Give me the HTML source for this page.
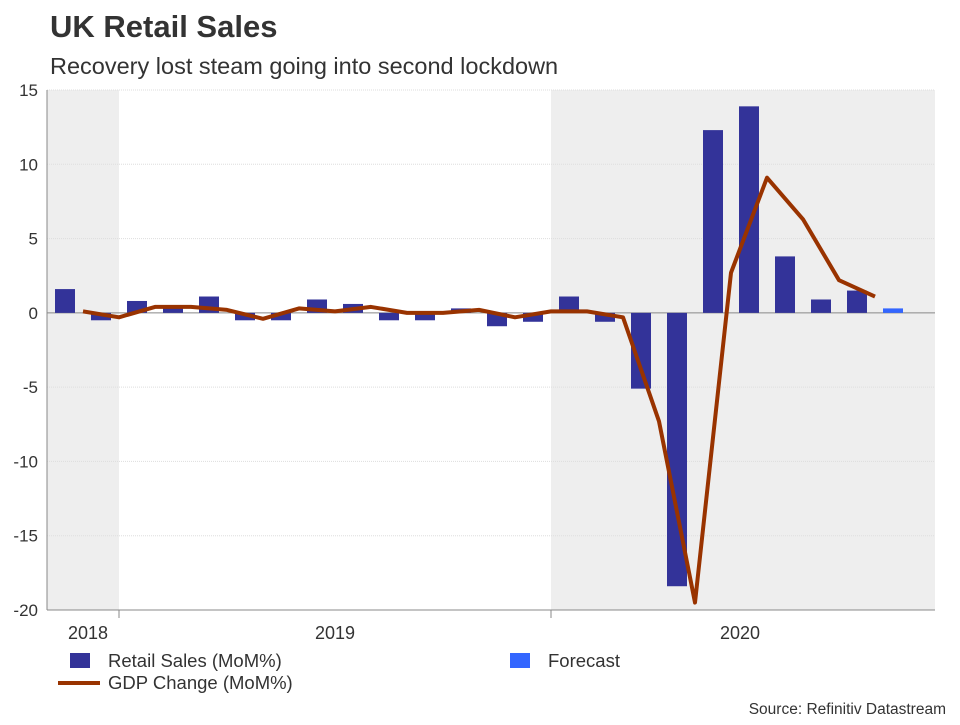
<!DOCTYPE html>
<html><head><meta charset="utf-8"><style>
body{margin:0;background:#fff;font-family:"Liberation Sans",Arial,sans-serif;}
svg text{font-family:"Liberation Sans",Arial,sans-serif;}
</style></head><body>
<svg id="c" width="960" height="720" xmlns="http://www.w3.org/2000/svg">
<text x="50" y="37" font-size="31" font-weight="bold" fill="#333">UK Retail Sales</text>
<text x="50" y="74" font-size="23.5" fill="#333">Recovery lost steam going into second lockdown</text>
<g id="plot"></g>
<g>
<rect x="70" y="653" width="20" height="15" fill="#333399"/>
<text x="108" y="667" font-size="18.5" fill="#333">Retail Sales (MoM%)</text>
<rect x="510" y="653" width="20" height="15" fill="#3366ff"/>
<text x="548" y="667" font-size="18.5" fill="#333">Forecast</text>
<line x1="58" y1="683" x2="100" y2="683" stroke="#993300" stroke-width="4"/>
<text x="108" y="689" font-size="18.5" fill="#333">GDP Change (MoM%)</text>
</g>
<text x="946" y="714" font-size="15.5" fill="#333" text-anchor="end">Source: Refinitiv Datastream</text>
</svg>
<script>
const retailValues=[1.6,-0.5,0.8,0.4,1.1,-0.5,-0.5,0.9,0.6,-0.5,-0.5,0.3,-0.9,-0.6,1.1,-0.6,-5.1,-18.4,12.3,13.9,3.8,0.9,1.5];
const forecastValues=[0.3];
const gdpValues=[0.1,-0.3,0.4,0.4,0.2,-0.4,0.3,0.1,0.4,0.0,0.0,0.2,-0.3,0.1,0.1,-0.3,-7.3,-19.5,2.7,9.1,6.3,2.2,1.1];
const yTicks=[15,10,5,0,-5,-10,-15,-20];
const yearLabels=["2018","2019","2020"];
const yearMonthIndex=[0.64,7.5,18.75];
const ns="http://www.w3.org/2000/svg";
const L=47,R=935,T=90,B=610;
const y=v=>T+(15-v)*(B-T)/35;
const x=i=>65+36*i;
const g=document.getElementById('plot');
function el(t,a){const e=document.createElementNS(ns,t);for(const k in a)e.setAttribute(k,a[k]);g.appendChild(e);return e;}
let s=el('rect',{x:L,y:T,width:119-L,height:B-T,fill:'#eeeeee'});


s=el('rect',{x:551,y:T,width:R-551,height:B-T,fill:'#eeeeee'});


yTicks.forEach(v=>{
 const ln=el('line',{x1:L,x2:R,y1:y(v),y2:y(v),stroke:v===0?'#888':'#ddd','stroke-width':1,'stroke-dasharray':v===0?'':'1,1'});
 
 
 const t=el('text',{x:L-9,y:y(v)+6,'font-size':17,fill:'#333','text-anchor':'end'});t.textContent=v;
 
 
});
retailValues.forEach((v,i)=>{
 const r=el('rect',{x:x(i)-10,y:Math.min(y(v),y(0)),width:20,height:Math.abs(y(v)-y(0)),fill:'#333399'});
 
 
});
forecastValues.forEach((v,i)=>{
 const j=retailValues.length+i;
 const r=el('rect',{x:x(j)-10,y:Math.min(y(v),y(0)),width:20,height:Math.abs(y(v)-y(0)),fill:'#3366ff'});
 
 
});
const pts=gdpValues.map((v,i)=>(x(i)+18)+','+y(v)).join(' ');
const pl=el('polyline',{points:pts,fill:'none',stroke:'#993300','stroke-width':4,'stroke-linejoin':'round'});


let ax=el('line',{x1:L,x2:L,y1:T,y2:B,stroke:'#888'});


ax=el('line',{x1:L,x2:R,y1:B,y2:B,stroke:'#888'});


[119,551].forEach(px=>{const tk=el('line',{x1:px,x2:px,y1:B,y2:B+8,stroke:'#888'});
 
 });
yearLabels.forEach((lab,i)=>{
 const t=el('text',{x:x(yearMonthIndex[i]),y:639,'font-size':18,fill:'#333','text-anchor':'middle'});
 t.textContent=lab;
 
 
});
</script>
</body></html>
